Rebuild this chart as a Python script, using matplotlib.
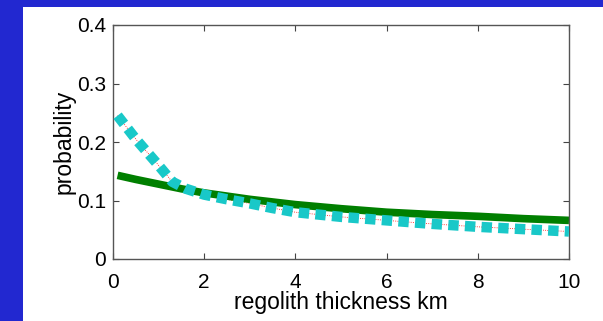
import matplotlib
matplotlib.use("Agg")
import matplotlib.pyplot as plt

# Data
green_x = [0.1, 0.5, 1.0, 1.5, 2.0, 3.0, 4.0, 5.0, 6.0, 7.0, 8.0, 9.0, 10.0]
green_y = [0.143, 0.136, 0.128, 0.120, 0.113, 0.102, 0.093, 0.086, 0.080, 0.076, 0.073, 0.069, 0.066]

cyan_x = [0.1, 0.5, 1.0, 1.3, 1.6, 2.0, 2.5, 3.0, 3.5, 4.0, 5.0, 6.0, 7.0, 8.0, 9.0, 10.0]
cyan_y = [0.245, 0.205, 0.160, 0.132, 0.120, 0.110, 0.102, 0.095, 0.087, 0.080, 0.072, 0.066, 0.060, 0.055, 0.051, 0.047]

x_ticks = [0, 2, 4, 6, 8, 10]
y_ticks = [0, 0.1, 0.2, 0.3, 0.4]
y_tick_labels = ["0", "0.1", "0.2", "0.3", "0.4"]

plt.rcParams['font.family'] = ['Liberation Sans', 'DejaVu Sans']

W, H = 603, 321
fig = plt.figure(figsize=(W / 100, H / 100), dpi=100)
fig.patch.set_facecolor('#2228D0')

# white panel
panel = fig.add_axes([23 / W, 0, 1 - 23 / W, 1 - 7 / H])
panel.set_facecolor('white')
panel.set_xticks([]); panel.set_yticks([])
for s in panel.spines.values():
    s.set_visible(False)

ax = fig.add_axes([113 / W, 1 - 259 / H, (569 - 113) / W, (259 - 25) / H])
ax.plot(cyan_x, cyan_y, color='red', lw=0.6, ls=':', zorder=1)
ax.plot(green_x, green_y, color='#007F00', lw=5.5, solid_capstyle='butt', zorder=2)
ax.plot(cyan_x, cyan_y, color='#19C8C8', lw=7.5, dashes=(1.0, 0.6),
        dash_capstyle='butt', zorder=3)

ax.set_xlim(0, 10)
ax.set_ylim(0, 0.4)
ax.set_xticks(x_ticks)
ax.set_yticks(y_ticks)
ax.set_yticklabels(y_tick_labels)
ax.tick_params(direction='in', top=True, right=True, length=4, width=0.8,
               labelsize=15, color='#444444')
ax.tick_params(axis='x', pad=10)
ax.tick_params(axis='y', pad=5)
for s in ax.spines.values():
    s.set_color('#555555')
    s.set_linewidth(1.0)
ax.set_xlabel('regolith thickness km', fontsize=16.5, labelpad=-1)
ax.set_ylabel('probability', fontsize=16.5, labelpad=1)

fig.savefig('out.png', dpi=100, facecolor=fig.get_facecolor())
